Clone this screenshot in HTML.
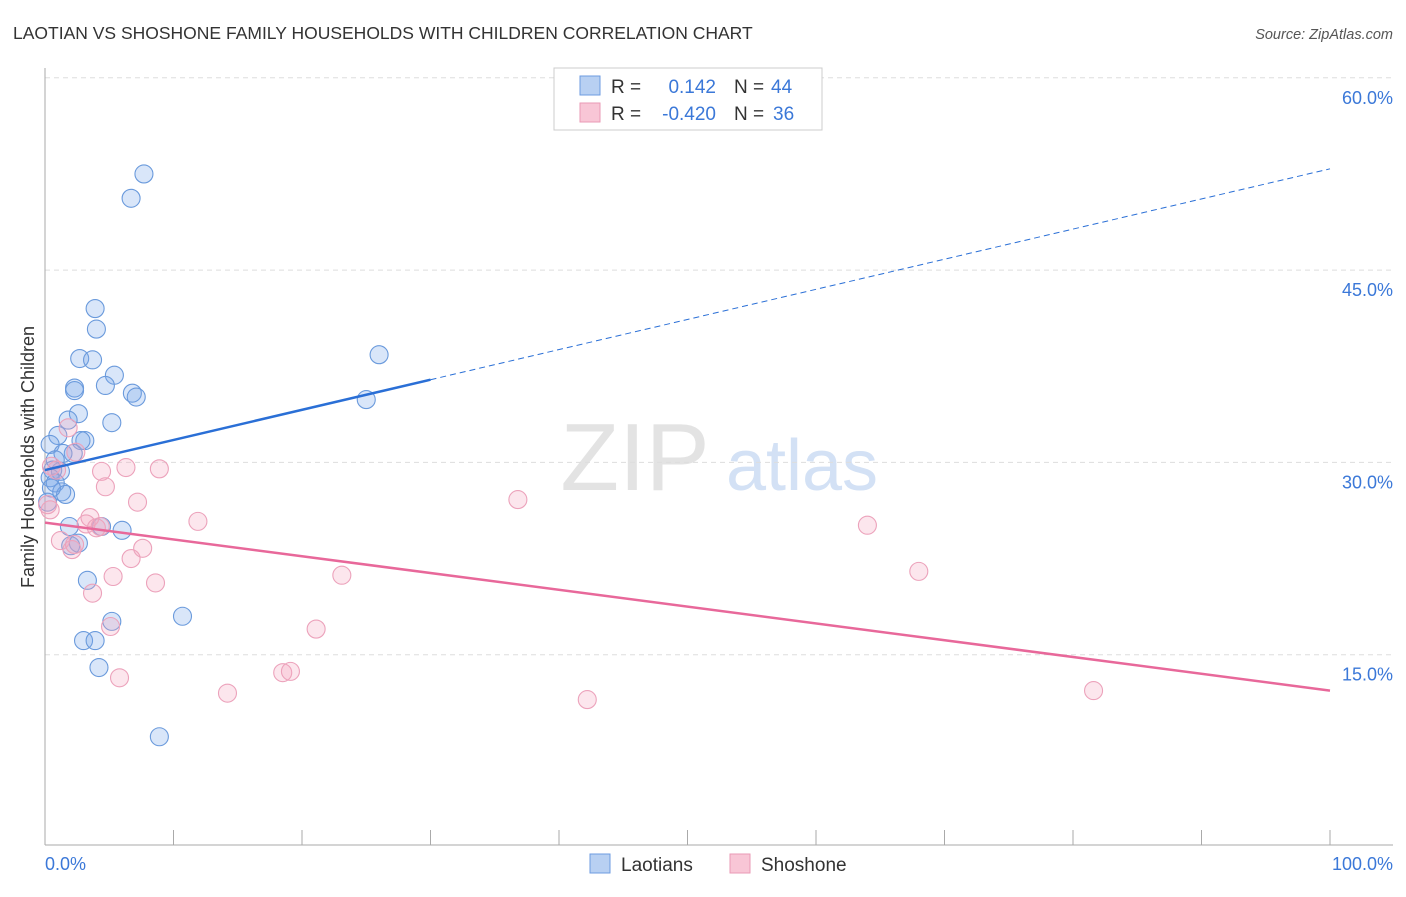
<!DOCTYPE html>
<html><head><meta charset="utf-8"><style>
body{margin:0;background:#fff;font-family:"Liberation Sans",sans-serif;}
svg text{font-family:"Liberation Sans",sans-serif;}
</style></head><body>
<svg id="chart" width="1406" height="892" xmlns="http://www.w3.org/2000/svg">
<text x="13" y="39" font-size="17.5" fill="#333">LAOTIAN VS SHOSHONE FAMILY HOUSEHOLDS WITH CHILDREN CORRELATION CHART</text>
<text x="1393" y="39" font-size="14.5" fill="#555" font-style="italic" text-anchor="end">Source: ZipAtlas.com</text>
<text x="635" y="490" font-size="96" fill="#e3e3e3" font-family="Liberation Serif" text-anchor="middle">ZIP</text>
<text x="802" y="490" font-size="72" fill="#d3e1f5" text-anchor="middle">atlas</text>
<g id="grid"></g><g id="axes"></g><g id="marks"></g>
<text transform="translate(34,457) rotate(-90)" font-size="18" fill="#333" text-anchor="middle">Family Households with Children</text>
<g>
<rect x="554" y="68" width="268" height="62" fill="#fff" stroke="#ccc"/>
<rect x="580" y="76" width="20" height="19" fill="#b8d0f2" stroke="#6d9be0"/>
<rect x="580" y="103" width="20" height="19" fill="#f8c6d6" stroke="#ea9ab5"/>
<text x="611" y="93" font-size="19" fill="#333">R =</text>
<text x="716" y="93" font-size="19" fill="#3b78d8" text-anchor="end">0.142</text>
<text x="734" y="93" font-size="19" fill="#333">N =</text>
<text x="771" y="93" font-size="19" fill="#3b78d8">44</text>
<text x="611" y="120" font-size="19" fill="#333">R =</text>
<text x="716" y="120" font-size="19" fill="#3b78d8" text-anchor="end">-0.420</text>
<text x="734" y="120" font-size="19" fill="#333">N =</text>
<text x="773" y="120" font-size="19" fill="#3b78d8">36</text>
</g>
<g>
<rect x="590" y="854" width="20" height="19" fill="#b8d0f2" stroke="#6d9be0"/>
<text x="621" y="871" font-size="19" fill="#333">Laotians</text>
<rect x="730" y="854" width="20" height="19" fill="#f8c6d6" stroke="#ea9ab5"/>
<text x="761" y="871" font-size="19" fill="#333">Shoshone</text>
</g>
</svg>
<script>
const yTicks=[15,30,45,60];
const yTickLabels=["15.0%","30.0%","45.0%","60.0%"];
const xLabels=["0.0%","100.0%"];
const laoX=[7.7,6.7,3.9,4.0,2.7,3.7,5.4,2.3,2.3,4.7,6.8,7.1,26.0,25.0,2.6,1.8,5.2,1.0,3.1,2.8,0.4,2.2,1.4,0.8,0.6,1.2,0.4,0.8,1.3,1.6,0.5,0.2,1.9,4.4,6.0,2.0,2.6,3.3,10.7,5.2,3.0,3.9,4.2,8.9];
const laoY=[52.5,50.6,42.0,40.4,38.1,38.0,36.8,35.8,35.6,36.0,35.4,35.1,38.4,34.9,33.8,33.3,33.1,32.1,31.7,31.7,31.4,30.7,30.7,30.2,29.4,29.3,28.8,28.4,27.7,27.5,28.0,26.9,25.0,25.0,24.7,23.5,23.7,20.8,18.0,17.6,16.1,16.1,14.0,8.6];
const shoX=[1.8,2.4,0.5,0.9,4.4,6.3,8.9,4.7,7.2,0.4,3.5,3.2,4.0,11.9,36.8,64.0,1.2,2.1,6.7,7.6,5.3,8.6,23.1,3.7,5.1,21.1,68.0,5.8,14.2,18.5,19.1,42.2,81.6,0.2,2.3,4.3];
const shoY=[32.7,30.8,29.7,29.4,29.3,29.6,29.5,28.1,26.9,26.3,25.7,25.2,24.9,25.4,27.1,25.1,23.9,23.2,22.5,23.3,21.1,20.6,21.2,19.8,17.2,17.0,21.5,13.2,12.0,13.6,13.7,11.5,12.2,26.7,23.6,25.0];
const laoTrend=[29.4,52.9];
const shoTrend=[25.3,12.2];
const NS="http://www.w3.org/2000/svg";
const X=v=>45+v*12.85, Y=v=>847-v*12.82;
function mk(p,tag,at){const e=document.createElementNS(NS,tag);for(const k in at)e.setAttribute(k,at[k]);document.getElementById(p).appendChild(e);return e;}
yTicks.forEach((t,i)=>{
 const g=mk('grid','line',{x1:45,x2:1393,y1:Y(t),y2:Y(t),stroke:'#ddd','stroke-dasharray':'5,4'});
 
 
 const l=mk('grid','text',{x:1393,y:Y(t)+26,'font-size':18,fill:'#3b78d8','text-anchor':'end'});
 l.textContent=yTickLabels[i];
 
 
});
const ya=mk('axes','line',{x1:45,x2:45,y1:68,y2:845,stroke:'#aaa'});


const xa=mk('axes','line',{x1:45,x2:1393,y1:845,y2:845,stroke:'#aaa'});


for(let k=1;k<=10;k++){const t=mk('axes','line',{x1:X(k*10),x2:X(k*10),y1:830,y2:845,stroke:'#aaa'});
 
 }
[[0,'start'],[100,'end']].forEach((d,i)=>{const t=mk('axes','text',{x:i?1393:45,y:870,'font-size':18,fill:'#3b78d8','text-anchor':d[1]});t.textContent=xLabels[i];
 
 });
laoX.forEach((x,i)=>{const c=mk('marks','circle',{cx:X(x),cy:Y(laoY[i]),r:9,fill:'rgba(120,165,235,0.28)',stroke:'#6a9adc','stroke-width':1.1});
 
 });
shoX.forEach((x,i)=>{const c=mk('marks','circle',{cx:X(x),cy:Y(shoY[i]),r:9,fill:'rgba(245,165,192,0.28)',stroke:'#eca2bb','stroke-width':1.1});
 
 });
const ly=x=>laoTrend[0]+(laoTrend[1]-laoTrend[0])*x/100;
const t1=mk('marks','line',{x1:X(0),y1:Y(ly(0)),x2:X(30),y2:Y(ly(30)),stroke:'#2a6fd6','stroke-width':2.5});


const t2=mk('marks','line',{x1:X(30),y1:Y(ly(30)),x2:X(100),y2:Y(ly(100)),stroke:'#2a6fd6','stroke-width':1,'stroke-dasharray':'6,4'});


const t3=mk('marks','line',{x1:X(0),y1:Y(shoTrend[0]),x2:X(100),y2:Y(shoTrend[1]),stroke:'#e8689a','stroke-width':2.5});


</script>
</body></html>
